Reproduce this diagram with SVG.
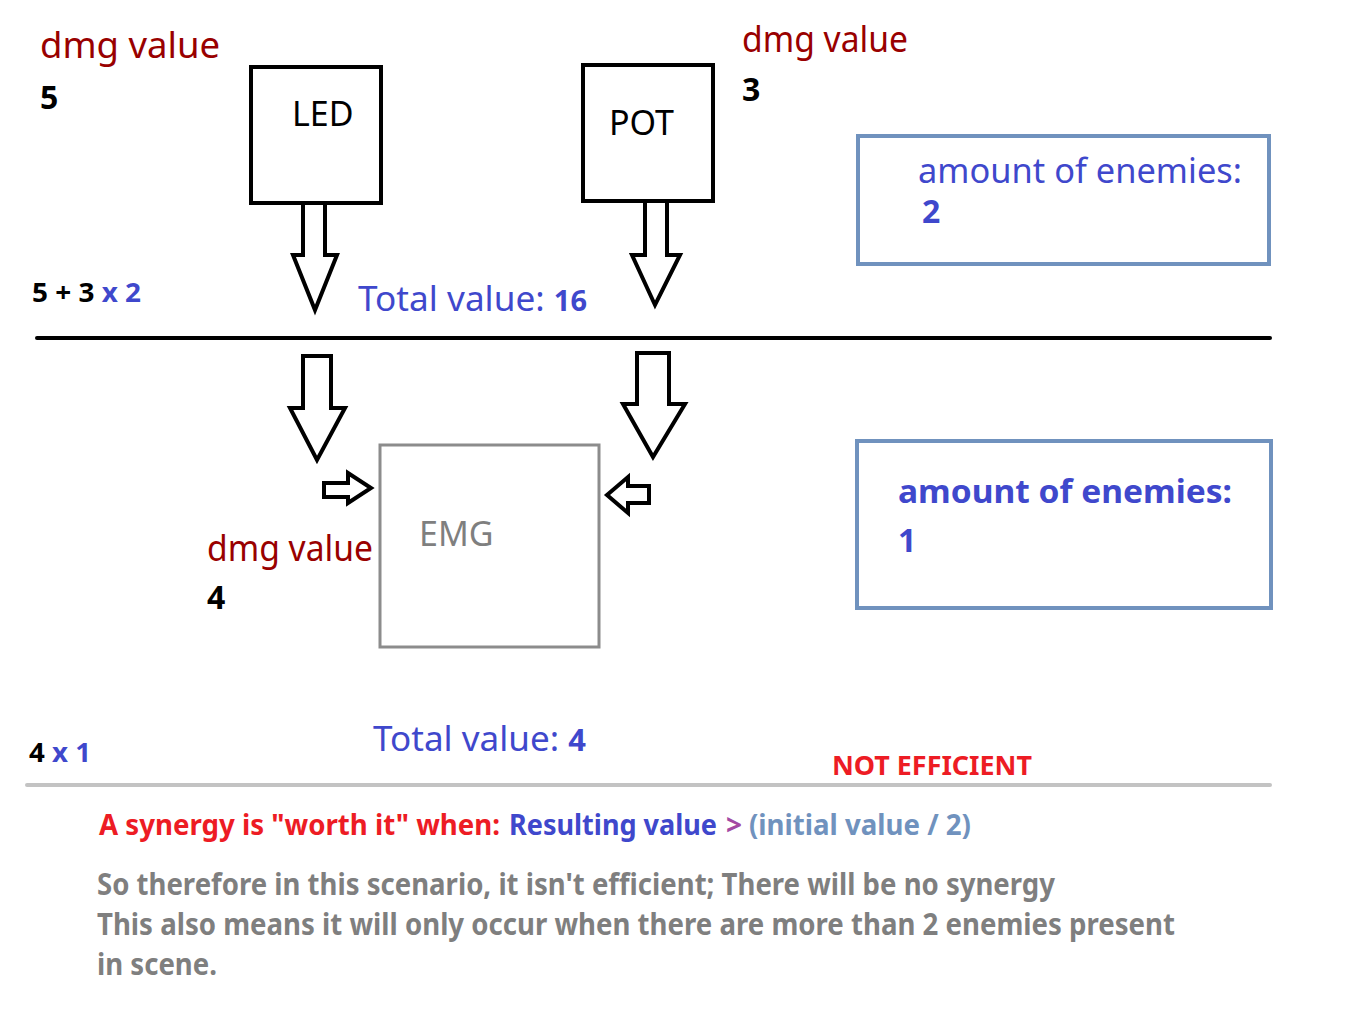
<svg xmlns="http://www.w3.org/2000/svg" width="1354" height="1010" viewBox="0 0 1354 1010">
<style>
text{font-family:"Noto Sans","Open Sans","DejaVu Sans",sans-serif}
.dr{fill:#990000;font-size:36px}
.num{fill:#000;font-size:32px;font-weight:bold}
.blk{fill:none;stroke:#000;stroke-width:4}
.arr{fill:#fff;stroke:#000;stroke-width:4;stroke-linejoin:miter}
.lbl{fill:#000;font-size:34px}
.bl{fill:#3F48CC}
.bbox{fill:none;stroke:#7092BE;stroke-width:4}
.gr{fill:#7F7F7F}
.syn{font-size:28px;font-weight:bold}
.gl{font-size:30px;font-weight:bold}
</style>
<rect width="1354" height="1010" fill="#fff"/>
<g id="led">
<rect class="blk" x="251" y="67" width="130" height="136"/>
<text class="lbl" x="292" y="126">LED</text>
</g>
<g id="pot">
<rect class="blk" x="583" y="65" width="130" height="136"/>
<text class="lbl" x="609" y="135">POT</text>
</g>
<g id="emg">
<rect x="380" y="445" width="219" height="202" fill="none" stroke="#8C8C8C" stroke-width="3"/>
<text class="gr" x="419" y="546" font-size="34">EMG</text>
</g>
<g id="enemies2">
<rect class="bbox" x="858" y="136" width="411" height="128"/>
<text class="bl" x="918" y="183" font-size="34" textLength="324" lengthAdjust="spacingAndGlyphs">amount of enemies:</text>
<text class="bl" x="922" y="223" font-size="32" font-weight="bold">2</text>
</g>
<g id="enemies1">
<rect class="bbox" x="857" y="441" width="414" height="167"/>
<text class="bl" x="898" y="503" font-size="33" font-weight="bold" textLength="334" lengthAdjust="spacingAndGlyphs">amount of enemies:</text>
<text class="bl" x="898" y="552" font-size="32" font-weight="bold">1</text>
</g>
<g id="connectors">
<polygon class="arr" points="303,203 325,203 325,255 337,255 315,310 293,255 303,255"/>
<polygon class="arr" points="645,201 667,201 667,255 680,255 655,305 632,255 645,255"/>
<polygon class="arr" points="303,356 331,356 331,408 345,408 317,460 290,408 303,408"/>
<polygon class="arr" points="637,353 669,353 669,404 685,404 653,457 623,404 637,404"/>
<polygon class="arr" points="324,483 348,483 348,473 371,488 348,503 348,497 324,497"/>
<polygon class="arr" points="649,486 628,486 628,477 607,495 628,513 628,503 649,503"/>
<line x1="37" y1="338" x2="1270" y2="338" stroke="#000" stroke-width="4" stroke-linecap="round"/>
<line x1="27" y1="785" x2="1270" y2="785" stroke="#C3C3C3" stroke-width="4" stroke-linecap="round"/>
</g>
<g id="labels">
<text class="dr" x="40" y="58" textLength="180" lengthAdjust="spacingAndGlyphs">dmg value</text>
<text class="num" x="40" y="109">5</text>
<text class="dr" x="742" y="52" textLength="166" lengthAdjust="spacingAndGlyphs">dmg value</text>
<text class="num" x="742" y="101">3</text>
<text class="dr" x="207" y="561" textLength="166" lengthAdjust="spacingAndGlyphs">dmg value</text>
<text class="num" x="207" y="609">4</text>
<text x="32" y="302" font-size="26" font-weight="bold" textLength="109" lengthAdjust="spacingAndGlyphs"><tspan fill="#000">5 + 3 </tspan><tspan fill="#3F48CC">x 2</tspan></text>
<text x="358" y="311" font-size="34" fill="#3F48CC" textLength="229" lengthAdjust="spacingAndGlyphs">Total value: <tspan font-size="28" font-weight="bold">16</tspan></text>
<text x="29" y="762" font-size="26" font-weight="bold" textLength="62" lengthAdjust="spacingAndGlyphs"><tspan fill="#000">4 </tspan><tspan fill="#3F48CC">x 1</tspan></text>
<text x="373" y="751" font-size="34" fill="#3F48CC" textLength="213" lengthAdjust="spacingAndGlyphs">Total value: <tspan font-size="30" font-weight="bold">4</tspan></text>
<text x="832" y="775" font-size="27" font-weight="bold" fill="#ED1C24" textLength="200" lengthAdjust="spacingAndGlyphs">NOT EFFICIENT</text>
<text class="syn" x="99" y="835" fill="#ED1C24" textLength="401" lengthAdjust="spacingAndGlyphs">A synergy is "worth it" when:</text>
<text class="syn" x="509" y="835" fill="#3F48CC" textLength="208" lengthAdjust="spacingAndGlyphs">Resulting value</text>
<text class="syn" x="726" y="835" fill="#A349A4">&gt;</text>
<text class="syn" x="749" y="835" fill="#7092BE" textLength="222" lengthAdjust="spacingAndGlyphs">(initial value / 2)</text>
<text class="gr gl" x="97" y="895" textLength="958" lengthAdjust="spacingAndGlyphs">So therefore in this scenario, it isn't efficient; There will be no synergy</text>
<text class="gr gl" x="97" y="935" textLength="1078" lengthAdjust="spacingAndGlyphs">This also means it will only occur when there are more than 2 enemies present</text>
<text class="gr gl" x="97" y="975" textLength="120" lengthAdjust="spacingAndGlyphs">in scene.</text>
</g>
</svg>
